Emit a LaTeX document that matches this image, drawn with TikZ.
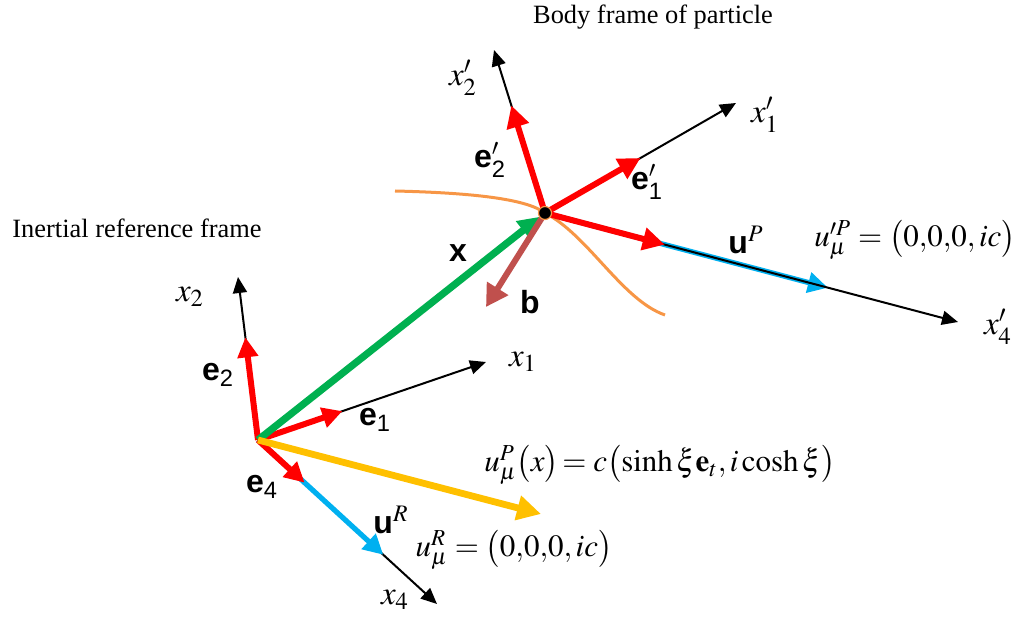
\documentclass[tikz,border=0pt]{standalone}
\usepackage{mathptmx}
\usepackage{amstext}
\usepackage{fontspec}
\setmainfont{Liberation Serif}
\setsansfont{Liberation Sans}
\usetikzlibrary{arrows.meta,calc}
\definecolor{vred}{HTML}{FF0000}
\definecolor{vgreen}{HTML}{00B050}
\definecolor{vyellow}{HTML}{FFC000}
\definecolor{vblue}{HTML}{00B0F0}
\definecolor{vbrown}{HTML}{C0504D}
\definecolor{curveor}{HTML}{F79646}
\newcommand{\evec}[2]{$\textbf{e}#1_{\textsf{\mdseries #2}}$}

\begin{document}
\begin{tikzpicture}[x=0.5pt,y=-0.5pt,
  axis/.style={-{Triangle[length=8pt,width=7pt]}, line width=1pt},
  vec/.style={-{Triangle[length=10pt,width=10pt]}, line width=3pt, draw=#1},
  lbl/.style={font=\fontsize{16.5}{19}\selectfont, inner sep=1pt},
  eqn/.style={font=\fontsize{15.5}{19}\selectfont, inner sep=1pt},
  bv/.style={font=\fontsize{16}{19}\selectfont\sffamily\bfseries, inner sep=1pt},
  ttl/.style={font=\fontsize{13.2}{16}\selectfont},
  dot/.style={circle, fill=black, draw=curveor, line width=0.6pt, inner sep=0pt, minimum size=6.5pt}
]
  \useasboundingbox (0,0) rectangle (1018,620);

  \coordinate (O) at (258,440);
  \coordinate (P) at (545,213);
  \coordinate (x1) at (486,362);
  \coordinate (x2) at (238,277);
  \coordinate (x4) at (437,604);
  \coordinate (x1p) at (736,103);
  \coordinate (x2p) at (494,50);
  \coordinate (x4p) at (958,322);
  \coordinate (upend) at (541,514);
  \coordinate (bend) at (486,307);
  \coordinate (e1) at ($(O)!0.37!(x1)$);
  \coordinate (e2) at ($(O)!0.63!(x2)$);
  \coordinate (e4) at ($(O)!0.26!(x4)$);
  \coordinate (uR) at ($(O)!0.70!(x4)$);
  \coordinate (e1p) at ($(P)!0.50!(x1p)$);
  \coordinate (e2p) at ($(P)!0.66!(x2p)$);
  \coordinate (e4p) at ($(P)!0.29!(x4p)$);
  \coordinate (uP) at ($(P)!0.685!(x4p)$);

  \draw[curveor, line width=1.5pt] (395,191) .. controls (480,193) and (528,200) .. (P) .. controls (588,235) and (622,300) .. (665,315);

  \draw[axis] (O) -- (x1);
  \draw[axis] (O) -- (x2);
  \draw[axis] (O) -- (x4);
  \draw[vec=vblue, line width=2.6pt] (O) -- (uR);
  \draw[vec=vred] (O) -- (e4);
  \draw[vec=vred] (O) -- (e1);
  \draw[vec=vred] (O) -- (e2);
  \draw[vec=vgreen, line width=3.6pt, -{Triangle[length=11pt,width=11pt]}, shorten >=3pt] (O) -- (P);
  \draw[vec=vyellow, line width=3.4pt, -{Triangle[length=12pt,width=12pt]}] (O) -- (upend);

  \draw[vec=vblue, line width=2.6pt] (P) -- (uP);
  \draw[axis] (P) -- (x1p);
  \draw[axis] (P) -- (x2p);
  \draw[axis] (P) -- (x4p);
  \draw[vec=vred, -{Triangle[length=11pt,width=11pt]}] (P) -- (e1p);
  \draw[vec=vred, -{Triangle[length=11pt,width=11pt]}] (P) -- (e2p);
  \draw[vec=vred, -{Triangle[length=11pt,width=11pt]}] (P) -- (e4p);
  \draw[vec=vbrown, -{Triangle[length=11pt,width=12pt]}] (P) -- (bend);
  \node[dot] (pdot) at (P) {};

  \node[ttl] (tbody) at (653,17) {Body frame of particle};
  \node[ttl] (tin) at (137,228) {Inertial reference frame};
  \node[lbl] (lx2) at (190,297) {$x_2$};
  \node[lbl] (lx1) at (523,362) {$x_1$};
  \node[lbl] (lx4) at (395,600) {$x_4$};
  \node[lbl] (lx2p) at (463,78) {$x'_2$};
  \node[lbl] (lx1p) at (765,115) {$x'_1$};
  \node[lbl] (lx4p) at (998,327) {$x'_4$};
  \node[bv] (le2) at (218,375) {\evec{}{2}};
  \node[bv] (le1) at (375,420) {\evec{}{1}};
  \node[bv] (le4) at (262,487) {\evec{}{4}};
  \node[bv] (le2p) at (490,160) {\evec{'}{2}};
  \node[bv] (le1p) at (647,182) {\evec{'}{1}};
  \node[bv] (lx) at (458,253) {x};
  \node[bv] (lb) at (530,302) {b};
  \node[bv] (luP) at (746,240) {$\textbf{u}^P$};
  \node[bv] (luR) at (391,520) {$\textbf{u}^R$};
  \node[eqn] (eqP) at (660,465) {$u^P_\mu\bigl(x\bigr)\!=c\bigl(\sinh\xi\mathbf{e}_t{,}\,i\cosh\xi\bigr)$};
  \node[eqn] (eqR) at (514,550) {$u^R_\mu=\bigl(0{,}0{,}0{,}\,ic\bigr)$};
  \node[eqn] (eqPp) at (915,240) {$u'^P_\mu=\bigl(0{,}0{,}0{,}\,ic\bigr)$};
\end{tikzpicture}
\end{document}
